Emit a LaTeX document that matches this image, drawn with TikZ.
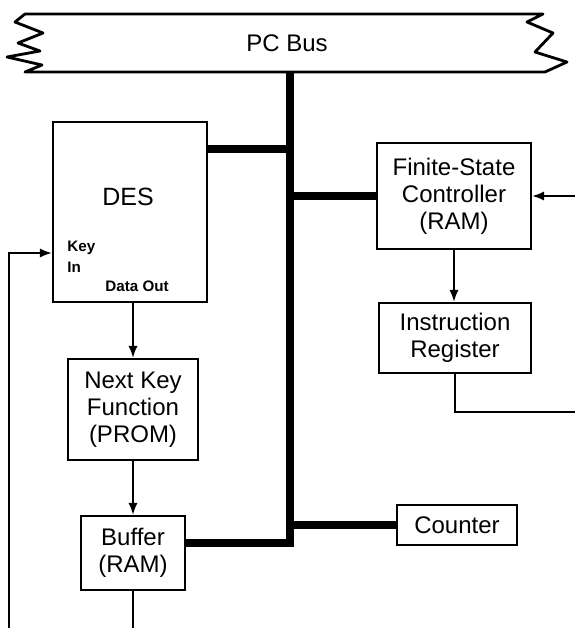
\documentclass[tikz,border=0pt]{standalone}
\usepackage{fontspec}
\setmainfont{Liberation Sans}
\usetikzlibrary{arrows.meta}

\begin{document}
\begin{tikzpicture}[x = 0.5pt, y = -0.5pt,
    unit/.style = {draw, line width = 1.2pt, align = center, inner sep = 0pt,
        font = \fontsize{12}{13.5}\selectfont},
    pin/.style = {anchor = west, inner sep = 0pt, font = \fontsize{7.6}{9}\selectfont\bfseries},
    busline/.style = {line width = 4.2pt, line join = miter},
    wire/.style = {line width = 0.8pt},
    arr/.style = {wire, -{Latex[length = 6pt, width = 4.6pt]}}]
    \useasboundingbox (0,0) rectangle (575,628);
    % the bus at the top
    \draw[line width = 1.4pt, line join = round] (25,14) -- (543,14) -- (527,22) -- (553,33) -- (535,52)
        -- (567,62) -- (545,72) -- (25,72) -- (42,65) -- (7,57) -- (40,51) -- (18,43)
        -- (43,33) -- (15,22) -- cycle;
    \node (pcbus) at (287,43) {\fontsize{12}{14}\selectfont PC Bus};
    \coordinate (bustop) at (290,72);
    \coordinate (busend) at (290,543);
    \coordinate (tapdes) at (290,149);
    \coordinate (tapfsc) at (290,196);
    \coordinate (tapcnt) at (290,525);
    % units
    \node[unit, minimum width = 77pt, minimum height = 90pt] (des) at (130,212) {};
    \node (deslbl) at (128,197) {\fontsize{12.5}{14}\selectfont DES};
    \node[pin] (keylbl) at (67,248) {Key};
    \node[pin] (inlbl) at (67,267) {In};
    \node[pin] (outlbl) at (105,286) {Data Out};
    \node[unit, minimum width = 65pt, minimum height = 50.5pt] (nk) at (133,409.5)
        {Next Key\\Function\\(PROM)};
    \node[unit, minimum width = 52pt, minimum height = 37pt] (buf) at (133,553) {Buffer\\(RAM)};
    \node[unit, minimum width = 77pt, minimum height = 53pt] (fsc) at (454,196)
        {Finite-State\\Controller\\(RAM)};
    \node[unit, minimum width = 76pt, minimum height = 35pt] (ir) at (455,338)
        {Instruction\\Register};
    \node[unit, minimum width = 60pt, minimum height = 20pt] (cnt) at (457,525) {Counter};
    % bus lines
    \draw[busline] (bustop) -- (busend) -- (buf.east |- busend);
    \draw[busline] (tapdes) -- (des.east |- tapdes);
    \draw[busline] (tapfsc) -- (fsc.west |- tapfsc);
    \draw[busline] (tapcnt) -- (cnt.west |- tapcnt);
    % signal lines
    \coordinate (loopbot) at (9,628);
    \coordinate (keyin) at (9,253);
    \coordinate (bufout) at (133,628);
    \coordinate (fscin) at (575,196);
    \coordinate (irout) at (575,412);
    \draw[arr] (loopbot) -- (keyin) -- (des.west |- keyin);
    \draw[arr] (des.south -| nk.north) -- (nk.north);
    \draw[arr] (nk.south) -- (buf.north);
    \draw[wire] (buf.south) -- (bufout);
    \draw[arr] (fscin) -- (fsc.east);
    \draw[arr] (fsc.south) -- (fsc.south |- ir.north);
    \draw[wire] (ir.south) |- (irout);
\end{tikzpicture}
\end{document}
